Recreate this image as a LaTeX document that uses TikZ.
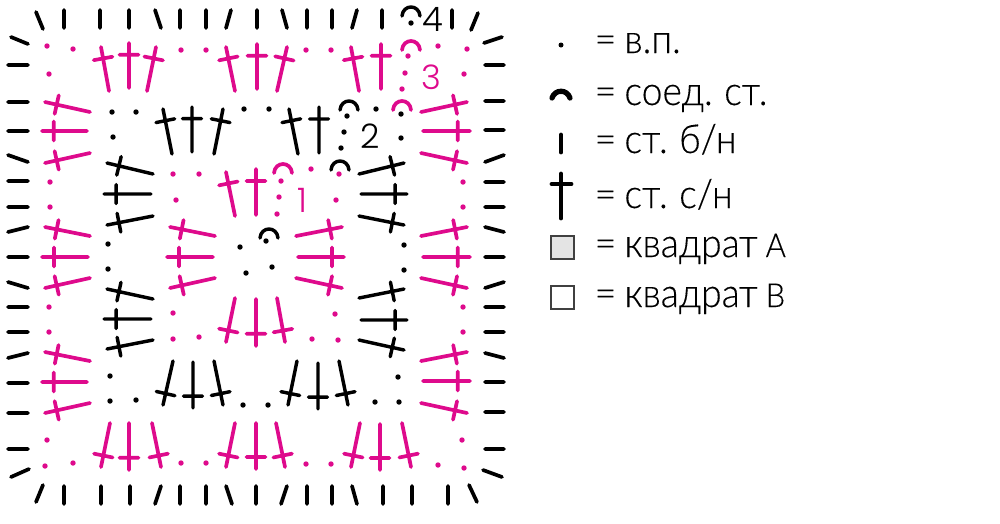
\documentclass[tikz,border=0pt]{standalone}
\usepackage{fontspec}
\usetikzlibrary{calc}
\newfontfamily\legfont{Lato Light}[FakeStretch=.93,FakeBold=.25,WordSpace=.8]
\newfontfamily\numfont{Poppins Light}
\definecolor{chartpink}{HTML}{DE0A8C}
\definecolor{squaregray}{HTML}{E4E4E4}
\tikzset{
  tickst/.style={line width=1.05pt,line cap=round,black},
  pinkst/.style={line width=1.05pt,line cap=round,chartpink},
  blackst/.style={line width=.98pt,line cap=round,black},
  pinkdot/.style={fill=chartpink},
  blackdot/.style={fill=black},
  roundnum/.style={inner sep=0pt,font=\numfont\fontsize{9.6}{11}\selectfont},
  legtext/.style={inner sep=0pt,anchor=base west,font=\legfont\fontsize{11.4}{13}\selectfont},
  legbox/.style={draw=black!75,line width=.3pt,minimum size=2.3mm,inner sep=0pt},
}
\newcommand{\legcap}[1]{{\fontsize{9.4}{13}\selectfont #1}}
% dc stitch: base, top
\newcommand{\dcstitch}[4]{
  (#1,#2) -- (#3,#4)
  ($(#1,#2)!0.74!(#3,#4)!0.95mm!90:(#3,#4)$) -- ($(#1,#2)!0.74!(#3,#4)!0.95mm!-90:(#3,#4)$)
}
\begin{document}
\begin{tikzpicture}[x=0.01cm,y=-0.01cm]
  \useasboundingbox (0,0) rectangle (1000,523);
  % outer row of sc
  \draw[tickst] (36,12) -- (43,29) (64,10) -- (64,28) (100,10) -- (100,28) (129,10) -- (129,28)
    (155,10) -- (161,28) (180,10) -- (180,28) (206,10) -- (206,28) (231,10) -- (226,28)
    (257,10) -- (257,28) (282,10) -- (287,28) (307,10) -- (307,28) (332,10) -- (332,28)
    (357,10) -- (352,28) (382,10) -- (382,28) (452,10) -- (452,28) (478,13) -- (471,30);
  \draw[tickst] (11,37) -- (28,44) (8,65) -- (28,65) (8,102) -- (28,102) (8,131) -- (28,131)
    (8,155) -- (28,162) (8,181) -- (28,181) (8,207) -- (28,207) (8,232) -- (28,227)
    (8,257) -- (28,257) (8,282) -- (28,288) (8,307) -- (28,307) (8,332) -- (28,332)
    (8,358) -- (28,353) (8,383) -- (28,383) (8,413) -- (28,413) (8,449) -- (28,449) (11,477) -- (29,469);
  \draw[tickst] (484,43) -- (502,37) (485,65) -- (504,65) (485,101) -- (504,101) (485,130) -- (504,130)
    (485,162) -- (504,155) (485,182) -- (504,182) (485,207) -- (504,207) (485,227) -- (504,232)
    (485,257) -- (504,257) (485,288) -- (504,282) (485,307) -- (504,307) (485,332) -- (504,332)
    (485,353) -- (504,358) (485,382) -- (504,382) (485,412) -- (504,412) (485,449) -- (504,449) (483,470) -- (502,477);
  \draw[tickst] (43,485) -- (36,502) (64,486) -- (64,504) (101,486) -- (101,504) (130,486) -- (130,504)
    (161,486) -- (155,504) (180,486) -- (180,504) (206,486) -- (206,504) (226,486) -- (232,504)
    (256,486) -- (256,504) (287,486) -- (281,504) (307,486) -- (307,504) (332,486) -- (332,504)
    (352,486) -- (357,504) (383,486) -- (383,504) (412,486) -- (412,504) (448,486) -- (448,504) (469,485) -- (477,502);
  % pink dc, row 3
  \draw[pinkst] \dcstitch{109}{91}{101}{47} \dcstitch{129}{88}{129}{43} \dcstitch{147}{91}{156}{47}
    \dcstitch{235}{91}{226}{47} \dcstitch{257}{89}{257}{44} \dcstitch{277}{91}{287}{47}
    \dcstitch{359}{91}{351}{47} \dcstitch{381}{89}{381}{44};
  \draw[pinkst] \dcstitch{90}{112}{45}{102} \dcstitch{87}{131}{42}{131} \dcstitch{90}{153}{45}{163}
    \dcstitch{90}{236}{45}{227} \dcstitch{88}{257}{42}{257} \dcstitch{90}{278}{45}{288}
    \dcstitch{90}{361}{45}{352} \dcstitch{87}{382}{42}{382} \dcstitch{90}{403}{45}{413};
  \draw[pinkst] \dcstitch{110}{423}{101}{467} \dcstitch{129}{423}{129}{470} \dcstitch{152}{423}{161}{467}
    \dcstitch{235}{423}{226}{467} \dcstitch{256}{423}{256}{469} \dcstitch{276}{423}{285}{467}
    \dcstitch{360}{423}{351}{467} \dcstitch{380}{424}{380}{470} \dcstitch{402}{423}{411}{467};
  \draw[pinkst] \dcstitch{421}{112}{467}{102} \dcstitch{423}{131}{470}{131} \dcstitch{421}{153}{467}{163}
    \dcstitch{421}{236}{467}{227} \dcstitch{423}{257}{470}{257} \dcstitch{421}{278}{467}{288}
    \dcstitch{421}{361}{467}{352} \dcstitch{423}{381}{470}{381} \dcstitch{421}{403}{467}{413};
  % pink dc, row 1
  \draw[pinkst] \dcstitch{235}{216}{226}{172} \dcstitch{256}{215}{256}{169} \dcstitch{215}{236}{170}{227}
    \dcstitch{213}{257}{167}{257} \dcstitch{215}{278}{170}{288} \dcstitch{235}{298}{226}{342}
    \dcstitch{256}{299}{256}{346} \dcstitch{277}{298}{285}{342} \dcstitch{296}{236}{342}{227}
    \dcstitch{298}{257}{344}{257} \dcstitch{296}{278}{342}{288};
  % black dc, row 2
  \draw[blackst] \dcstitch{172}{154}{163}{109} \dcstitch{192}{152}{192}{107} \dcstitch{214}{154}{223}{109}
    \dcstitch{298}{154}{289}{109} \dcstitch{319}{153}{319}{107};
  \draw[blackst] \dcstitch{153}{174}{107}{163} \dcstitch{151}{194}{104}{194} \dcstitch{153}{216}{107}{225}
    \dcstitch{153}{299}{107}{289} \dcstitch{151}{319}{104}{319} \dcstitch{153}{340}{107}{349};
  \draw[blackst] \dcstitch{173}{361}{163}{405} \dcstitch{193}{362}{193}{408} \dcstitch{214}{361}{223}{405}
    \dcstitch{297}{361}{288}{405} \dcstitch{318}{363}{318}{409} \dcstitch{339}{361}{348}{405};
  \draw[blackst] \dcstitch{359}{174}{404}{163} \dcstitch{361}{194}{407}{194} \dcstitch{359}{216}{404}{225}
    \dcstitch{359}{298}{404}{289} \dcstitch{361}{320}{407}{320} \dcstitch{359}{340}{404}{350};
  % chains
  \path[pinkdot] (47,46) circle (2.7) (73,49) circle (2.7) (49,74) circle (2.7) (181,50) circle (2.7)
    (206,50) circle (2.7) (50,182) circle (2.7) (50,207) circle (2.7) (49,307) circle (2.7)
    (49,332) circle (2.7) (47,440) circle (2.7) (45,466) circle (2.7) (73,463) circle (2.7)
    (181,463) circle (2.7) (206,463) circle (2.7) (306,464) circle (2.7) (331,464) circle (2.7)
    (438,465) circle (2.7) (464,468) circle (2.7) (462,440) circle (2.7) (463,332) circle (2.7)
    (463,307) circle (2.7) (306,50) circle (2.7) (331,50) circle (2.7) (408,56) circle (2.7)
    (405,73) circle (2.7) (402,89) circle (2.7) (438,46) circle (2.7) (467,49) circle (2.7)
    (464,74) circle (2.7) (463,182) circle (2.7) (463,207) circle (2.7);
  \path[pinkdot] (173,174) circle (2.7) (199,174) circle (2.7) (176,200) circle (2.7) (311,169) circle (2.7)
    (281,181) circle (2.7) (279,197) circle (2.7) (277,214) circle (2.7) (339,174) circle (2.7)
    (336,200) circle (2.7) (173,313) circle (2.7) (173,339) circle (2.7) (199,337) circle (2.7)
    (335,314) circle (2.7) (312,339) circle (2.7) (338,340) circle (2.7);
  \path[blackdot] (112,112) circle (2.7) (136,112) circle (2.7) (113,137) circle (2.7) (244,109) circle (2.7)
    (108,244) circle (2.7) (240,247) circle (2.7) (269,109) circle (2.7) (347,116) circle (2.7)
    (344,132) circle (2.7) (341,148) circle (2.7) (376,109) circle (2.7) (401,114) circle (2.7)
    (401,138) circle (2.7) (266,241) circle (2.7) (404,245) circle (2.7) (108,269) circle (2.7)
    (246,273) circle (2.7) (110,376) circle (2.7) (110,401) circle (2.7) (136,400) circle (2.7)
    (243,405) circle (2.7) (272,267) circle (2.7) (404,270) circle (2.7) (398,377) circle (2.7)
    (375,402) circle (2.7) (399,402) circle (2.7) (268,405) circle (2.7) (411,23) circle (2.7);
  % slip stitches
  \draw[blackst] (402,16) .. controls (403,4) and (419,4) .. (420,16);
  \draw[pinkst] (402,50) .. controls (403,38) and (419,38) .. (420,50);
  \draw[blackst] (340,110) .. controls (341,98) and (357,98) .. (358,110);
  \draw[pinkst] (393,110) .. controls (394,98) and (410,98) .. (411,110);
  \draw[pinkst] (274,173) .. controls (275,161) and (291,161) .. (292,173);
  \draw[blackst] (331,170) .. controls (332,158) and (348,158) .. (349,170);
  \draw[blackst] (260,238) .. controls (261,226) and (277,226) .. (278,238);
  % round numbers
  \node[roundnum,chartpink] (num1) at (302,200) {1};
  \node[roundnum] (num2) at (370,136) {2};
  \node[roundnum,chartpink] (num3) at (431,77) {3};
  \node[roundnum] (num4) at (433,19) {4};
  % legend
  \path[blackdot] (561,45) circle (2.5);
  \draw[line width=1.5pt,line cap=round] (552,98) .. controls (555,89) and (567,89) .. (570,98);
  \draw[line width=1.4pt,line cap=round] (561,135) -- (561,152);
  \draw[line width=1.4pt,line cap=round] (561,218) -- (561,174) (552,184) -- (571,184);
  \node[legbox,fill=squaregray] (boxA) at (562.5,247.5) {};
  \node[legbox] (boxB) at (562.5,297.5) {};
  \node[legtext] (legch) at (594,53) {= в.п.};
  \node[legtext] (legsl) at (594,105) {= соед. ст.};
  \node[legtext] (legsc) at (594,153) {= ст. б/н};
  \node[legtext] (legdc) at (594,208) {= ст. с/н};
  \node[legtext] (legA) at (594,257) {= квадрат \legcap{А}};
  \node[legtext] (legB) at (594,307) {= квадрат \legcap{В}};
\end{tikzpicture}
\end{document}
